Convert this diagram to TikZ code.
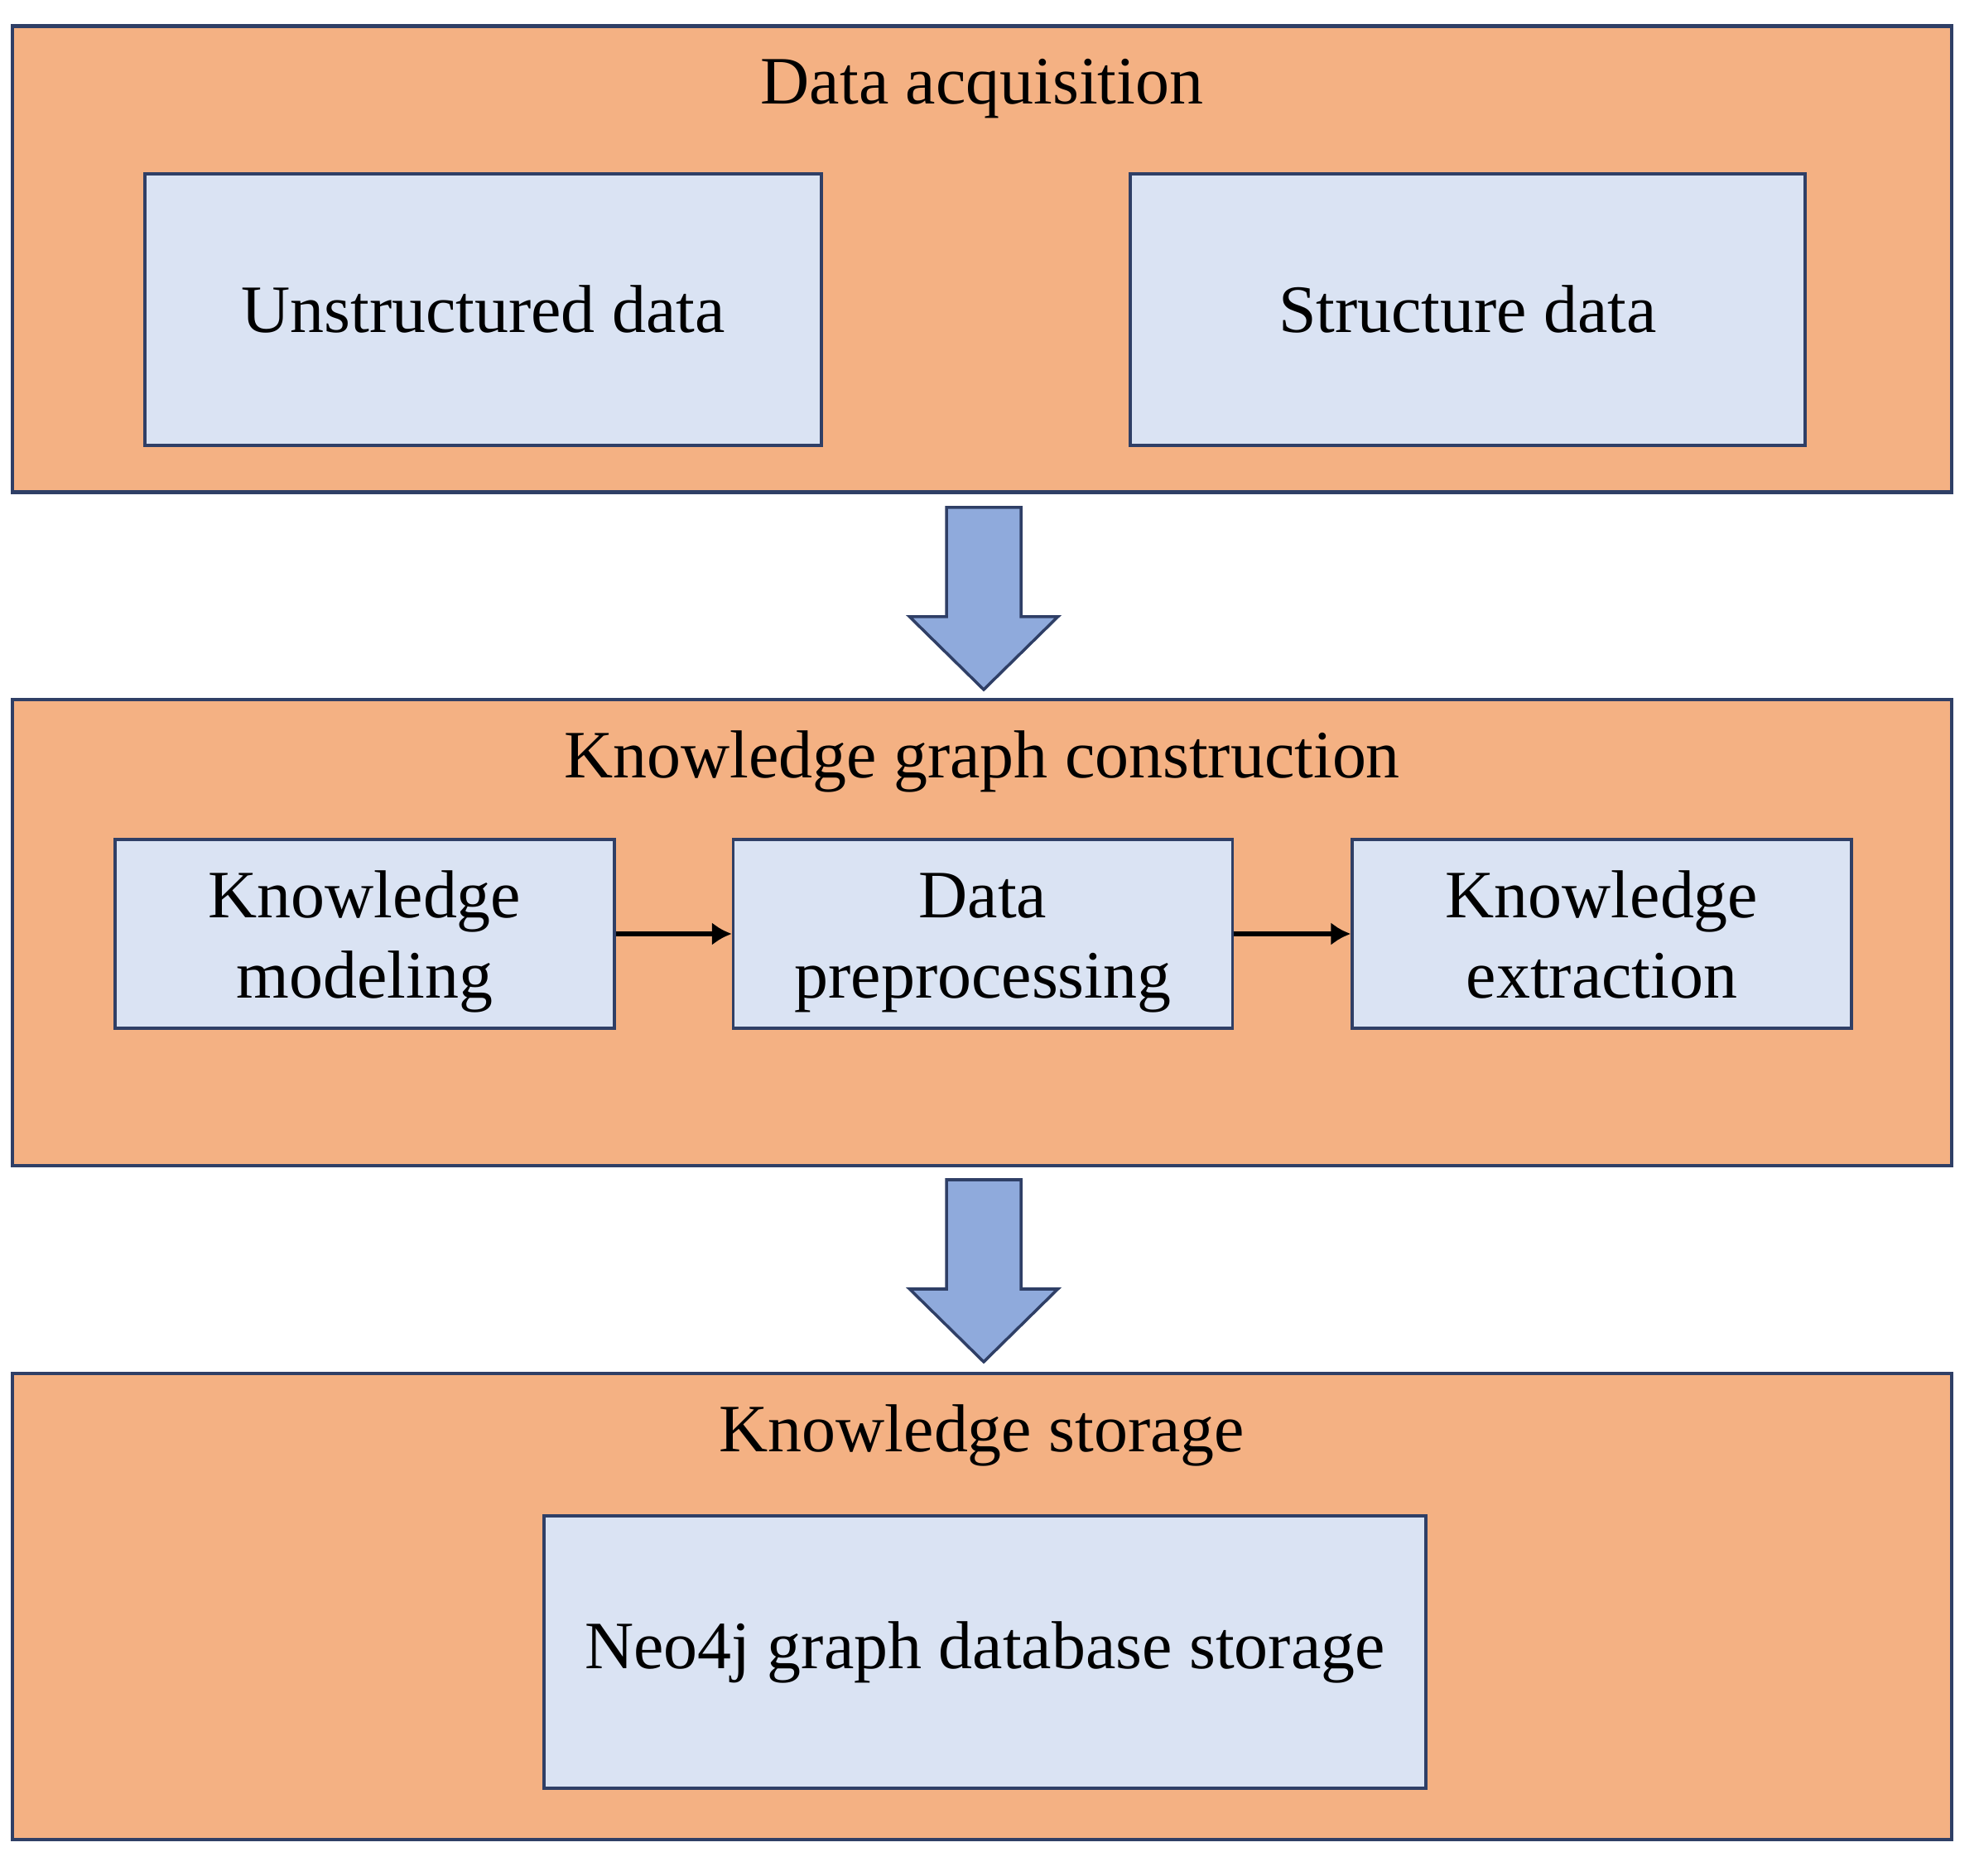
\documentclass[tikz,border=0pt]{standalone}
\usepackage{fontspec}
\setmainfont{Liberation Serif}
\usetikzlibrary{arrows.meta}

\definecolor{stageorange}{HTML}{F4B183}
\definecolor{itemblue}{HTML}{DAE3F3}
\definecolor{bigarrow}{HTML}{8FAADC}
\definecolor{edgeblue}{HTML}{2F3F66}

% equal line heights in the two-line boxes
\newcommand{\upline}{\rule{0pt}{7.8mm}}
\newcommand{\lowline}{\rule[-2mm]{0pt}{2mm}}

\begin{document}
\begin{tikzpicture}[
  font=\fontsize{23.3}{27.8}\selectfont,
  stage/.style={draw=edgeblue, line width=1.3pt, fill=stageorange,
    minimum width=23.42cm, minimum height=5.63cm, inner sep=0pt},
  item/.style={draw=edgeblue, line width=1pt, fill=itemblue,
    align=center, inner sep=0pt},
  flow/.style={-{Latex[length=2.4mm,width=2.8mm]}, line width=1.5pt, black}
]
\useasboundingbox (0,0) rectangle (23.90,22.65);

\node[stage] (acq) at (11.86,19.52) {};
\node[stage] (kgc) at (11.86,11.385) {};
\node[stage] (sto) at (11.86,3.245) {};

\node[anchor=base] (acqtitle) at ([yshift=-0.965cm]acq.north) {Data acquisition};
\node[anchor=base] (kgctitle) at ([yshift=-0.965cm]kgc.north) {Knowledge graph construction};
\node[anchor=base] (stotitle) at ([yshift=-0.965cm]sto.north) {Knowledge storage};

\node[item, minimum width=8.17cm, minimum height=3.28cm] (unstr) at (5.835,18.91) {Unstructured data};
\node[item, minimum width=8.15cm, minimum height=3.28cm] (str) at (17.725,18.91) {Structure data};

\node[item, minimum width=6.03cm, minimum height=2.28cm] (model) at (4.405,11.37) {\upline Knowledge\\modeling\lowline};
\node[item, minimum width=6.03cm, minimum height=2.28cm] (prep) at (11.87,11.37) {\upline Data\\preprocessing\lowline};
\node[item, minimum width=6.03cm, minimum height=2.28cm] (extr) at (19.345,11.37) {\upline Knowledge\\extraction\lowline};

\node[item, minimum width=10.65cm, minimum height=3.29cm] (neo) at (11.895,2.695) {Neo4j graph database storage};

\draw[flow] (model) -- (prep);
\draw[flow] (prep) -- (extr);

% block arrows between the stages
\foreach \t in {16.52,8.40}{
  \filldraw[fill=bigarrow, draw=edgeblue, line width=1pt, line join=miter]
    (11.43,\t) -- (12.33,\t) -- (12.33,\t-1.32) -- (12.775,\t-1.32)
    -- (11.88,\t-2.20) -- (10.985,\t-1.32) -- (11.43,\t-1.32) -- cycle;
}

\end{tikzpicture}
\end{document}
